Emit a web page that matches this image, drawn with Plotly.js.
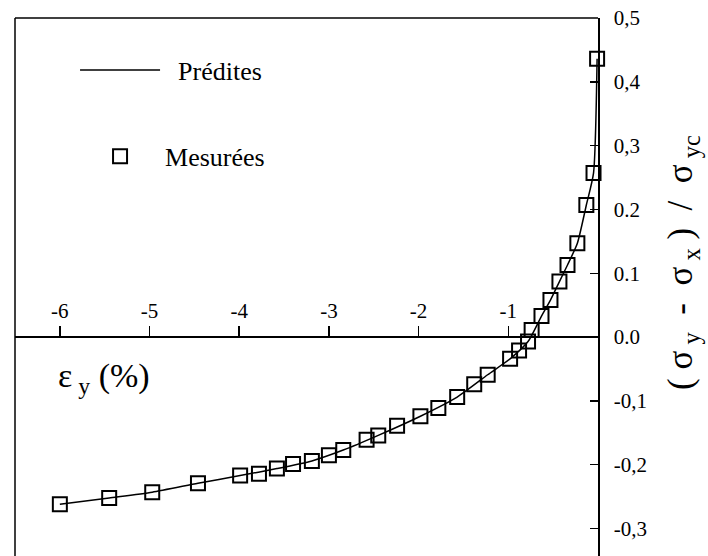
<!DOCTYPE html>
<html>
<head>
<meta charset="utf-8">
<script src="https://cdn.plot.ly/plotly-3.0.1.min.js"></script>
<style>
html,body{margin:0;padding:0;background:#fff;}
#chart{width:708px;height:556px;}
</style>
</head>
<body>
<div id="chart"></div>
<script>
// Strain epsilon_y (%)
var measuredX = [-6.0, -5.45, -4.97, -4.46, -3.99, -3.78, -3.58, -3.40, -3.19, -3.00, -2.84, -2.58, -2.45, -2.24, -1.98, -1.78, -1.57, -1.38, -1.23, -0.98, -0.88, -0.78, -0.74, -0.63, -0.53, -0.43, -0.34, -0.23, -0.13, -0.05, -0.01];
// (sigma_y - sigma_x) / sigma_yc
var measuredY = [-0.262, -0.252, -0.243, -0.229, -0.217, -0.214, -0.206, -0.199, -0.194, -0.185, -0.177, -0.161, -0.154, -0.139, -0.124, -0.111, -0.094, -0.074, -0.059, -0.034, -0.021, -0.007, 0.011, 0.033, 0.058, 0.087, 0.113, 0.147, 0.207, 0.257, 0.436];
var predictedX = [-6.0, -5.45, -4.97, -4.46, -3.99, -3.58, -3.19, -2.84, -2.45, -1.98, -1.57, -1.23, -0.98, -0.78, -0.63, -0.53, -0.43, -0.34, -0.23, -0.13, -0.05, -0.01];
var predictedY = [-0.262, -0.252, -0.243, -0.229, -0.217, -0.206, -0.194, -0.177, -0.154, -0.124, -0.094, -0.059, -0.034, -0.007, 0.033, 0.058, 0.087, 0.113, 0.147, 0.207, 0.257, 0.436];

var xTickVals = [-6, -5, -4, -3, -2, -1];
var xTickText = ['-6', '-5', '-4', '-3', '-2', '-1'];
var yTickVals = [0.5, 0.4, 0.3, 0.2, 0.1, 0.0, -0.1, -0.2, -0.3];
var yTickText = ['0,5', '0,4', '0,3', '0.2', '0.1', '0.0', '-0,1', '-0,2', '-0,3'];

var xRange = [-6.5, 0];
var yRange = [-0.343, 0.5];
var xAxisPos = (0 - yRange[0]) / (yRange[1] - yRange[0]);

var serif = 'Liberation Serif';

var traces = [
  {
    x: predictedX, y: predictedY, type: 'scatter', mode: 'lines',
    name: '\u2002Prédites', line: {color: '#000', width: 1.5, shape: 'spline', smoothing: 0.6},
    legend: 'legend', cliponaxis: false
  },
  {
    x: measuredX, y: measuredY, type: 'scatter', mode: 'markers',
    name: 'Mesurées',
    marker: {symbol: 'square-open', size: 14, color: '#000', line: {color: '#000', width: 2}},
    legend: 'legend2', cliponaxis: false
  }
];

var layout = {
  width: 708, height: 556,
  margin: {l: 15, r: 110, t: 18, b: 0},
  paper_bgcolor: '#fff', plot_bgcolor: '#fff',
  font: {family: serif, color: '#000', size: 21},
  showlegend: true,
  legend: {x: 0.103, y: 0.903, xanchor: 'left', yanchor: 'middle', itemwidth: 80,
           font: {family: serif, size: 26, color: '#000'}, bgcolor: 'rgba(0,0,0,0)'},
  legend2: {x: 0.103, y: 0.743, xanchor: 'left', yanchor: 'middle', itemwidth: 80,
           font: {family: serif, size: 26, color: '#000'}, bgcolor: 'rgba(0,0,0,0)'},
  xaxis: {
    range: xRange, anchor: 'free', position: xAxisPos, side: 'top',
    showline: true, linecolor: '#000', linewidth: 2,
    ticks: 'outside', ticklen: 10, tickwidth: 1.5, tickcolor: '#000',
    tickvals: xTickVals, ticktext: xTickText,
    tickfont: {family: serif, size: 21, color: '#000'},
    showgrid: false, zeroline: false, fixedrange: true
  },
  yaxis: {
    range: yRange, side: 'right', anchor: 'x',
    showline: true, linecolor: '#000', linewidth: 1.5,
    ticks: 'inside', ticklen: 8, tickwidth: 1.5, tickcolor: '#000',
    tickvals: yTickVals, ticktext: yTickText,
    tickfont: {family: serif, size: 21, color: '#000'},
    ticklabelstandoff: 10,
    showgrid: false, zeroline: false, fixedrange: true
  },
  shapes: [
    {type: 'line', xref: 'paper', yref: 'paper', x0: 0, x1: 1, y0: 1, y1: 1, line: {color: '#000', width: 1.5}},
    {type: 'line', xref: 'paper', yref: 'paper', x0: 0, x1: 0, y0: 0, y1: 1, line: {color: '#000', width: 1.5}}
  ],
  annotations: [
    {xref: 'paper', yref: 'paper', x: 0.153, y: 0.331, xanchor: 'center', yanchor: 'middle',
     text: 'ε<sub> y</sub> (%)', showarrow: false, font: {family: serif, size: 34, color: '#000'}},
    {xref: 'paper', yref: 'paper', x: 1.146, y: 0.545, xanchor: 'center', yanchor: 'middle', textangle: -90,
     text: '( σ<sub> y</sub>  -  σ<sub> x</sub> )  /  σ<sub> yc</sub>', showarrow: false,
     font: {family: serif, size: 35, color: '#000'}}
  ]
};

Plotly.newPlot('chart', traces, layout, {staticPlot: true, displayModeBar: false});
</script>
</body>
</html>
